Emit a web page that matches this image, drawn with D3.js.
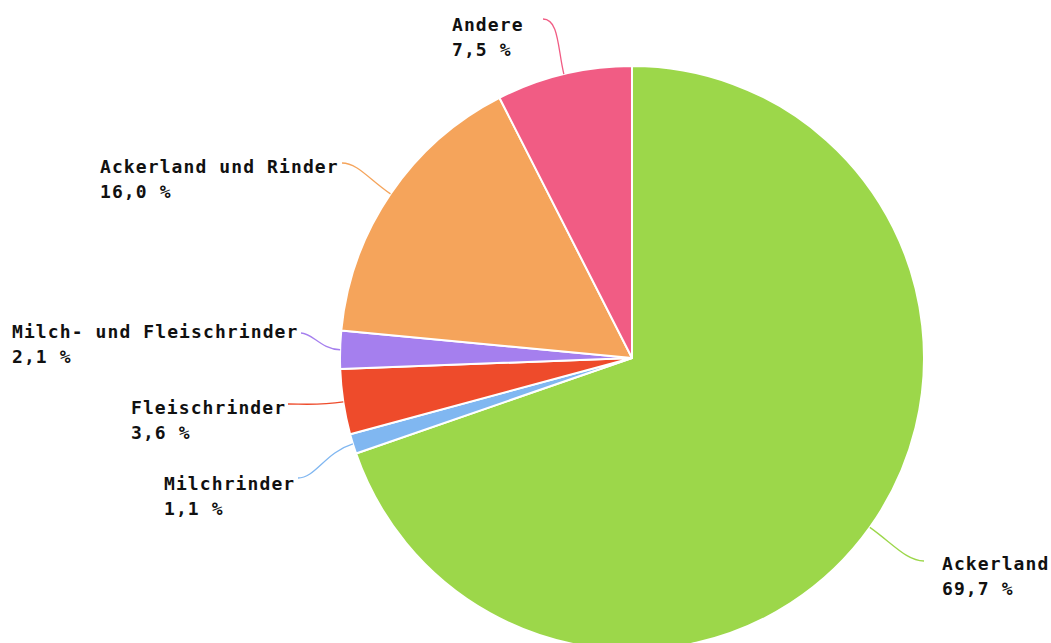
<!DOCTYPE html>
<html><head><meta charset="utf-8">
<script src="https://cdn.jsdelivr.net/npm/d3@7"></script>
<style>
html,body{margin:0;padding:0;background:#fff;}
svg{display:block;}
text{font-family:"DejaVu Sans Mono",monospace;font-weight:bold;font-size:18px;letter-spacing:1.1px;fill:#111;}
</style></head>
<body>
<svg id="chart" width="1051" height="643"></svg>
<script>
const categories = ["Ackerland","Milchrinder","Fleischrinder","Milch- und Fleischrinder","Ackerland und Rinder","Andere"];
const values = [69.7, 1.1, 3.6, 2.1, 16.0, 7.5];
const valueLabels = ["69,7 %","1,1 %","3,6 %","2,1 %","16,0 %","7,5 %"];
const colors = ["#9cd74a","#80b7f1","#ee4b2b","#a57fee","#f5a45b","#f15c84"];

// label layout (text anchor point and leader-line start), not data
const labelLayout = [
  {x:942, y:570, anchor:"start", lx:924, ly:561},
  {x:164, y:490, anchor:"start", lx:298, ly:478},
  {x:131, y:414, anchor:"start", lx:288, ly:404},
  {x:12,  y:338, anchor:"start", lx:301, ly:333},
  {x:100, y:173, anchor:"start", lx:342, ly:163},
  {x:452, y:31,  anchor:"start", lx:543, ly:19}
];

const svg = d3.select("#chart");
const cx = 632, cy = 358, R = 292;
const g = svg.append("g").attr("transform",`translate(${cx},${cy})`);

const pie = d3.pie().sort(null).value(d=>d.v);
const arcs = pie(categories.map((c,i)=>({c, v:values[i], i})));
const arc = d3.arc().innerRadius(0).outerRadius(R);
const color = d3.scaleOrdinal().domain(categories).range(colors);

g.selectAll("path.slice").data(arcs).enter().append("path")
  .attr("class","slice")
  .attr("d",arc)
  .attr("fill",d=>color(d.data.c))
  .attr("stroke","#fff").attr("stroke-width",2).attr("stroke-linejoin","round");

// leader lines
arcs.forEach((d,i)=>{
  const a = (d.startAngle+d.endAngle)/2;
  const px = Math.sin(a)*R, py = -Math.cos(a)*R;
  const L = labelLayout[i];
  const lx = L.lx-cx, ly = L.ly-cy;
  const dist = Math.hypot(lx-px, ly-py);
  const k = dist*0.45;
  const c1x = px+Math.sin(a)*k, c1y = py-Math.cos(a)*k;
  const dir = lx < px ? 1 : -1;
  const c2x = lx + dir*k*0.6, c2y = ly;
  const p = d3.path();
  p.moveTo(px,py); p.bezierCurveTo(c1x,c1y,c2x,c2y,lx,ly);
  g.append("path").attr("d",p.toString()).attr("fill","none")
    .attr("stroke",color(d.data.c)).attr("stroke-width",1.3);
});

// labels
arcs.forEach((d,i)=>{
  const L = labelLayout[i];
  const t = svg.append("text").attr("x",L.x).attr("y",L.y).attr("text-anchor",L.anchor);
  t.append("tspan").attr("x",L.x).text(categories[i]);
  t.append("tspan").attr("x",L.x).attr("dy",25).text(valueLabels[i]);
});
</script>
</body></html>
